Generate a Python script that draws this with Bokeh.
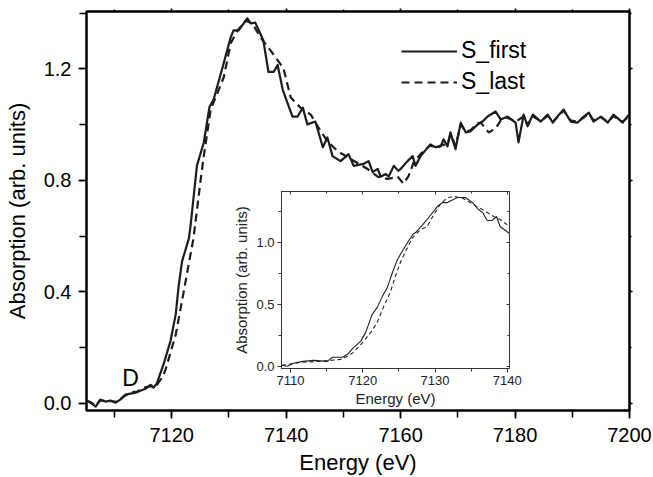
from bokeh.plotting import figure
from bokeh.models import (Range1d, SingleIntervalTicker, LinearAxis, PrintfTickFormatter,
                          Legend, LegendItem, Label, CustomLabelingPolicy)
from bokeh.layouts import column
from bokeh.embed import file_html
from bokeh.resources import INLINE

FONT = "Liberation Sans"

# ---------------- main panel data ----------------
e_first = [7105.1, 7105.8, 7106.7, 7107.5, 7108.4, 7109.3, 7110.2, 7111.0, 7111.9, 7113.7,
           7114.5, 7115.4, 7116.3, 7116.8, 7117.4, 7118.6, 7119.8, 7120.7, 7121.2, 7121.8,
           7123.0, 7123.3, 7124.4, 7125.6, 7126.6, 7127.3, 7128.9, 7130.3, 7130.8, 7131.7,
           7133.2, 7133.8, 7134.6, 7136.0, 7136.9, 7137.8, 7138.5, 7139.4, 7141.1, 7142.0,
           7142.9, 7143.7, 7145.1, 7146.4, 7147.2, 7148.1, 7149.5, 7150.9, 7151.8, 7153.5,
           7154.4, 7155.1, 7156.0, 7156.5, 7157.4, 7157.9, 7158.8, 7159.6, 7160.0, 7161.2,
           7162.1, 7162.6, 7163.5, 7165.2, 7166.1, 7167.0, 7167.5, 7168.2, 7168.7, 7169.6,
           7170.5, 7171.4, 7172.2, 7173.5, 7174.3, 7175.2, 7176.6, 7177.5, 7178.7, 7180.1,
           7180.6, 7181.5, 7182.2, 7183.1, 7184.5, 7185.7, 7186.6, 7187.4, 7188.5, 7189.7,
           7190.9, 7192.0, 7192.9, 7193.7, 7195.0, 7196.2, 7197.2, 7198.8, 7199.9]
a_first = [0.010, 0.002, -0.012, 0.013, 0.006, 0.010, 0.002, 0.013, 0.031, 0.038,
           0.045, 0.052, 0.066, 0.056, 0.071, 0.142, 0.225, 0.320, 0.420, 0.509,
           0.592, 0.639, 0.853, 0.936, 1.064, 1.089, 1.207, 1.313, 1.338, 1.338,
           1.381, 1.363, 1.366, 1.303, 1.189, 1.189, 1.214, 1.125, 1.029, 1.029,
           1.061, 1.001, 1.011, 0.919, 0.954, 0.887, 0.869, 0.894, 0.852, 0.859,
           0.869, 0.830, 0.841, 0.813, 0.823, 0.813, 0.852, 0.834, 0.841, 0.869,
           0.887, 0.852, 0.887, 0.929, 0.919, 0.922, 0.947, 0.922, 0.972, 0.912,
           1.007, 0.972, 0.976, 1.001, 1.011, 1.029, 1.047, 1.018, 1.029, 1.007,
           0.936, 1.036, 0.994, 1.036, 1.011, 1.036, 1.007, 1.029, 1.054, 1.011,
           1.007, 1.029, 1.043, 1.011, 1.029, 1.007, 1.036, 1.007, 1.036]

e_last = [7105.1, 7105.8, 7106.7, 7107.5, 7108.4, 7109.3, 7110.2, 7111.0, 7111.9, 7113.0,
          7114.0, 7115.0, 7116.0, 7116.8, 7117.4, 7118.4, 7118.9, 7120.7, 7121.9, 7122.9,
          7123.8, 7125.0, 7125.6, 7126.8, 7128.0, 7129.1, 7130.3, 7131.5, 7132.9, 7134.1,
          7135.5, 7137.6, 7139.5, 7140.8, 7142.5, 7144.3, 7145.5, 7147.2, 7149.0, 7151.3,
          7154.2, 7156.0, 7157.7, 7159.5, 7160.5, 7161.4, 7162.3, 7163.5, 7165.2, 7166.1,
          7167.0, 7168.2, 7168.7, 7169.6, 7170.5, 7171.4, 7172.2, 7173.5, 7174.0, 7175.4,
          7176.6, 7177.5, 7178.7, 7180.1, 7181.5, 7182.2, 7183.1, 7184.5, 7185.7, 7186.6,
          7187.4, 7188.5, 7189.7, 7190.9, 7192.0, 7192.9, 7193.7, 7195.0, 7196.2, 7197.2,
          7198.8, 7199.9]
a_last = [0.008, 0.004, -0.008, 0.010, 0.008, 0.008, 0.005, 0.015, 0.028, 0.040,
          0.042, 0.055, 0.060, 0.062, 0.066, 0.095, 0.120, 0.247, 0.379, 0.492,
          0.592, 0.794, 0.887, 1.054, 1.114, 1.171, 1.292, 1.338, 1.373, 1.363,
          1.313, 1.257, 1.203, 1.097, 1.061, 1.036, 0.994, 0.940, 0.905, 0.876,
          0.841, 0.813, 0.805, 0.813, 0.788, 0.816, 0.866, 0.895, 0.926, 0.915,
          0.925, 0.930, 0.965, 0.925, 1.000, 0.975, 0.980, 1.005, 1.007, 0.972,
          0.986, 1.015, 1.025, 1.010, 1.030, 1.000, 1.030, 1.012, 1.032, 1.010,
          1.027, 1.050, 1.015, 1.010, 1.025, 1.040, 1.015, 1.027, 1.010, 1.030,
          1.010, 1.030]

# ---------------- inset data ----------------
ie_first = [7108.8, 7109.6, 7110.4, 7111.7, 7113.2, 7115.1, 7115.8, 7117.2, 7117.9, 7118.6,
            7119.7, 7120.4, 7121.3, 7122.0, 7122.7, 7123.4, 7124.1, 7124.8, 7125.6, 7126.9,
            7127.3, 7128.3, 7128.9, 7130.3, 7131.0, 7131.7, 7133.1, 7134.2, 7135.2, 7136.0,
            7136.6, 7137.2, 7137.9, 7138.5, 7139.0, 7140.3]
ia_first = [0.006, -0.002, 0.022, 0.038, 0.046, 0.038, 0.071, 0.071, 0.095, 0.143,
            0.200, 0.273, 0.419, 0.476, 0.565, 0.638, 0.759, 0.865, 0.946, 1.067,
            1.083, 1.148, 1.189, 1.294, 1.326, 1.326, 1.367, 1.367, 1.326, 1.270,
            1.245, 1.181, 1.181, 1.213, 1.132, 1.075]
ie_last = [7108.8, 7111.4, 7114.1, 7116.9, 7117.9, 7118.7, 7120.0, 7121.1, 7122.0, 7122.9,
           7123.8, 7124.5, 7125.2, 7125.9, 7126.9, 7128.0, 7128.9, 7129.6, 7130.7, 7131.7,
           7132.8, 7133.9, 7135.3, 7137.0, 7138.1, 7139.0, 7140.3]
ia_last = [0.006, 0.030, 0.038, 0.054, 0.079, 0.111, 0.192, 0.273, 0.354, 0.484,
           0.597, 0.727, 0.840, 0.929, 1.043, 1.108, 1.132, 1.205, 1.310, 1.367,
           1.375, 1.359, 1.310, 1.254, 1.213, 1.189, 1.132]

series_names = ["S_first", "S_last"]

NO_LABELS = """
for (const i of indices) { indices.unset(i) }
return indices
"""

BORDER_L = 86
BORDER_R = 24

# ---------------- main figure ----------------
p = figure(width=653, height=477, x_range=Range1d(7105.1, 7200), y_range=Range1d(-0.026, 1.406),
           output_backend="svg", toolbar_location=None,
           min_border_left=BORDER_L, min_border_right=BORDER_R, min_border_top=11, min_border_bottom=63)
p.xgrid.visible = False
p.ygrid.visible = False
p.outline_line_color = "black"
p.outline_line_width = 2
p.background_fill_color = "white"
p.border_fill_color = "white"

xt = SingleIntervalTicker(interval=20, num_minor_ticks=2)
yt = SingleIntervalTicker(interval=0.4, num_minor_ticks=2)

def style_axis(ax):
    ax.axis_line_width = 2
    ax.axis_line_color = "black"
    ax.major_tick_line_width = 1.5
    ax.minor_tick_line_width = 1.5
    ax.major_tick_line_color = "black"
    ax.minor_tick_line_color = "black"
    ax.major_label_text_font = FONT
    ax.major_label_text_color = "black"
    ax.axis_label_text_font = FONT
    ax.axis_label_text_font_style = "normal"
    ax.axis_label_text_color = "black"

xa = p.xaxis[0]
xa.ticker = xt
style_axis(xa)
xa.major_tick_out = 8
xa.major_tick_in = 0
xa.minor_tick_out = 7
xa.minor_tick_in = 0
xa.major_label_text_font_size = "20px"
xa.major_label_standoff = 9
xa.axis_label = "Energy (eV)"
xa.axis_label_text_font_size = "22px"
xa.axis_label_standoff = 5

ya = p.yaxis[0]
ya.ticker = yt
style_axis(ya)
ya.formatter = PrintfTickFormatter(format="%.1f")
ya.major_tick_out = 8
ya.major_tick_in = 0
ya.minor_tick_out = 7
ya.minor_tick_in = 0
ya.major_label_text_font_size = "20px"
ya.major_label_standoff = 7
ya.axis_label = "Absorption (arb. units)"
ya.axis_label_text_font_size = "22px"
ya.axis_label_standoff = 11

top = LinearAxis(ticker=xt, major_label_text_font_size="0px", major_label_standoff=0,
                 major_label_policy=CustomLabelingPolicy(code=NO_LABELS),
                 major_tick_in=0, major_tick_out=3, minor_tick_in=0, minor_tick_out=2)
style_axis(top)
top.major_label_text_font_size = "0px"
p.add_layout(top, "above")
right = LinearAxis(ticker=yt, major_label_text_font_size="0px", major_label_standoff=0,
                   major_label_policy=CustomLabelingPolicy(code=NO_LABELS),
                   major_tick_in=0, major_tick_out=3, minor_tick_in=0, minor_tick_out=2)
style_axis(right)
right.major_label_text_font_size = "0px"
p.add_layout(right, "right")

r1 = p.line(e_first, a_first, line_color="#1c1c1c", line_width=2.2, line_join="round")
r2 = p.line(e_last, a_last, line_color="#1c1c1c", line_width=2.2, line_dash="8 5")

legend = Legend(items=[LegendItem(label=series_names[0], renderers=[r1]),
                       LegendItem(label=series_names[1], renderers=[r2])],
                location=(315, 315), glyph_width=56, glyph_height=22, label_standoff=4,
                spacing=4, padding=0, margin=0, border_line_alpha=0, background_fill_alpha=0,
                label_text_font=FONT, label_text_font_size="23px", label_text_color="black")
p.add_layout(legend)

p.add_layout(Label(x=7112.8, y=0.09, text="D", text_font=FONT, text_font_size="23px",
                   text_align="center", text_baseline="alphabetic", text_color="black"))

# ---------------- inset figure ----------------
# frame: 228 x 177 px; borders match the main figure (column aligns them)
ins = figure(width=BORDER_L + 228 + BORDER_R, height=4 + 177 + 50,
             x_range=Range1d(7108.75, 7140.3), y_range=Range1d(-0.02, 1.416),
             output_backend="svg", toolbar_location=None,
             min_border_left=BORDER_L, min_border_right=BORDER_R, min_border_top=4, min_border_bottom=50,
             margin=(-290, 0, 0, 281 - BORDER_L))
ins.xgrid.visible = False
ins.ygrid.visible = False
ins.outline_line_color = "#333333"
ins.outline_line_width = 1
ins.background_fill_color = "white"
ins.border_fill_alpha = 0

ixt = SingleIntervalTicker(interval=10, num_minor_ticks=2)
iyt = SingleIntervalTicker(interval=0.5, num_minor_ticks=2)

def style_inset_axis(ax):
    ax.axis_line_width = 1
    ax.axis_line_color = "#333333"
    ax.major_tick_line_color = "#333333"
    ax.minor_tick_line_color = "#333333"
    ax.major_label_text_font = FONT
    ax.major_label_text_color = "#222222"
    ax.major_label_text_font_size = "13px"
    ax.axis_label_text_font = FONT
    ax.axis_label_text_font_style = "normal"
    ax.axis_label_text_color = "#222222"
    ax.axis_label_text_font_size = "15px"

ixa = ins.xaxis[0]
ixa.ticker = ixt
style_inset_axis(ixa)
ixa.major_tick_out = 4
ixa.major_tick_in = 0
ixa.minor_tick_out = 3
ixa.minor_tick_in = 0
ixa.major_label_standoff = 3
ixa.axis_label = "Energy (eV)"
ixa.axis_label_standoff = 2

iya = ins.yaxis[0]
iya.ticker = iyt
style_inset_axis(iya)
iya.formatter = PrintfTickFormatter(format="%.1f")
iya.major_tick_out = 4
iya.major_tick_in = 0
iya.minor_tick_out = 3
iya.minor_tick_in = 0
iya.major_label_standoff = 3
iya.axis_label = "Absorption (arb. units)"
iya.axis_label_standoff = 3

itop = LinearAxis(ticker=ixt, major_label_text_font_size="0px", major_label_standoff=0,
                  major_label_policy=CustomLabelingPolicy(code=NO_LABELS),
                  major_tick_in=3, major_tick_out=0, minor_tick_in=2, minor_tick_out=0)
style_inset_axis(itop)
itop.major_label_text_font_size = "0px"
ins.add_layout(itop, "above")
iright = LinearAxis(ticker=iyt, major_label_text_font_size="0px", major_label_standoff=0,
                    major_label_policy=CustomLabelingPolicy(code=NO_LABELS),
                    major_tick_in=3, major_tick_out=0, minor_tick_in=2, minor_tick_out=0)
style_inset_axis(iright)
iright.major_label_text_font_size = "0px"
ins.add_layout(iright, "right")

ins.line(ie_first, ia_first, line_color="#222222", line_width=1.1)
ins.line(ie_last, ia_last, line_color="#222222", line_width=1.1, line_dash="4 3")

layout = column(p, ins)
open("out.html", "w").write(file_html(layout, INLINE))
